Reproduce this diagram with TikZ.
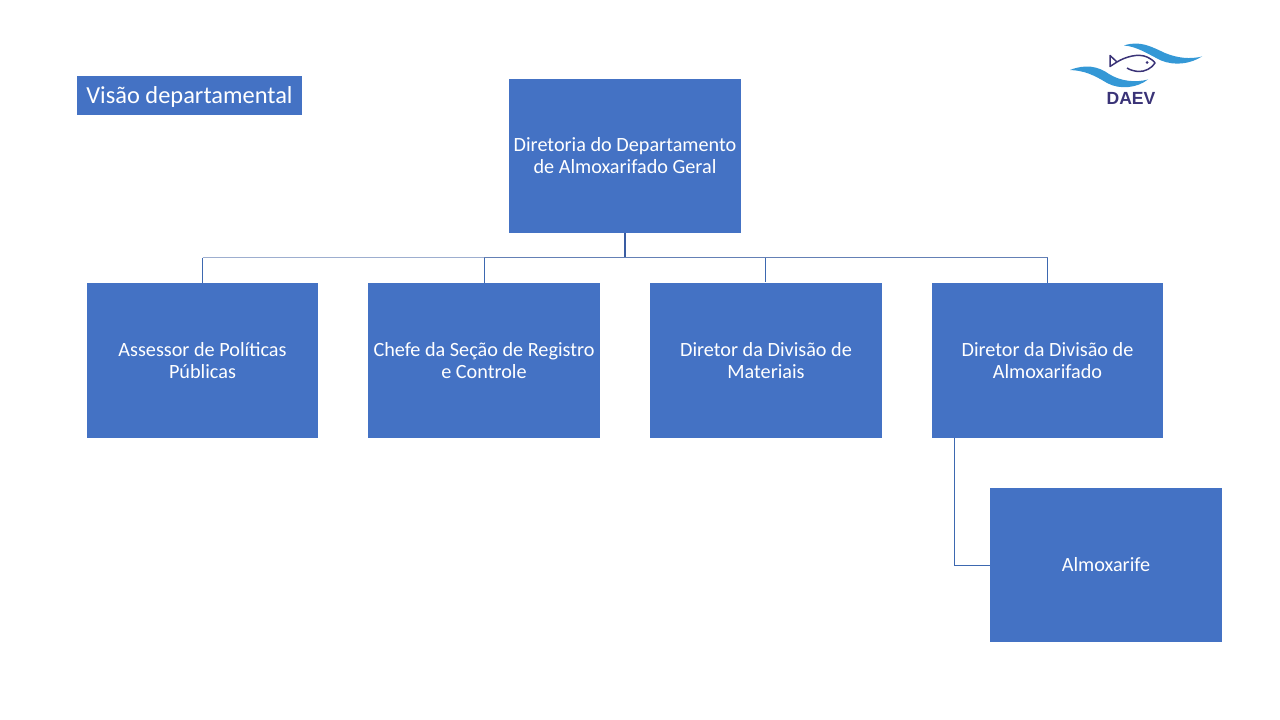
\documentclass[tikz,border=0pt]{standalone}
\usepackage{fontspec}
\setmainfont{Carlito}
\newfontfamily\logofont{Liberation Sans}
\usepackage{xcolor}
\definecolor{boxblue}{HTML}{4472C4}
\definecolor{stemblue}{HTML}{3A5DA3}
\definecolor{busblue}{HTML}{6480B5}
\definecolor{buslight}{HTML}{9DAECF}
\definecolor{dropblue}{HTML}{3D68B0}
\definecolor{wave}{HTML}{3498D6}
\definecolor{navy}{HTML}{3A3377}
\tikzset{
  cargo/.style={fill=boxblue, text=white, minimum width=4.64cm, minimum height=3.08cm,
    inner sep=0pt, text width=4.6cm, align=flush center, font=\fontsize{11.5}{12.5}\selectfont},
  estreito/.style={cargo, minimum width=4.62cm},
  titulo/.style={fill=boxblue, text=white, minimum width=4.5cm, minimum height=0.78cm,
    inner sep=0pt, text height=10pt, text depth=1.2pt, font=\fontsize{13.9}{16}\selectfont},
  liga/.style={line width=0.5pt, draw=dropblue},
}

\begin{document}
\begin{tikzpicture}[x=0.2mm, y=-0.2mm]
  \useasboundingbox (0,0) rectangle (1280,720);

  \node[titulo] (titulo) at (189.5,95.5) {Visão departamental};

  \node[cargo] (diretoria) at (625,156) {Diretoria do Departamento\\de Almoxarifado Geral};
  \node[estreito] (assessor) at (202.5,360.5) {Assessor de Políticas\\Públicas};
  \node[cargo] (chefe) at (484,360.5) {Chefe da Seção de Registro\\e Controle};
  \node[cargo] (materiais) at (766,360.5) {Diretor da Divisão de\\Materiais};
  \node[estreito] (divisao) at (1047.5,360.5) {Diretor da Divisão de\\Almoxarifado};
  \node[cargo] (almoxarife) at (1106,565) {Almoxarife};

  \coordinate (barra) at (625,257.7); % bus line
  \coordinate (pe) at (954,438);      % foot under last director
  \coordinate (queda) at (765.3,282); % drop beside centre of Materiais

  \draw[line width=0.8pt, draw=stemblue] (diretoria.south) -- (barra);
  \draw[liga, draw=buslight] (barra -| assessor.north) -- (barra -| chefe.north);
  \draw[liga, draw=busblue] (barra -| chefe.north) -- (barra -| divisao.north);
  \foreach \alvo in {assessor,chefe,divisao}
    \draw[liga] (barra -| \alvo.north) -- (\alvo.north);
  \draw[liga] (barra -| queda) -- (queda);
  \draw[liga] (pe) |- (almoxarife.west);

  % logo
  \fill[wave] (1124,45.5) .. controls (1140,40) and (1152,47) .. (1165,53)
    .. controls (1177,58) and (1190,59.5) .. (1202,56.5)
    .. controls (1190,64) and (1175,66) .. (1161,60.5)
    .. controls (1148,54) and (1137,46.5) .. (1124,45.5) -- cycle;
  \fill[wave] (1070,70) .. controls (1085,64) and (1098,66) .. (1109,74)
    .. controls (1120,81) and (1135,83) .. (1148,79.5)
    .. controls (1137,88) and (1120,90) .. (1107,83)
    .. controls (1094,75) and (1084,70.5) .. (1070,70) -- cycle;
  \draw[navy, line width=0.85pt, line join=round] (1117,62) -- (1110,55.5) -- (1110,66.5)
    -- (1117,62) .. controls (1125,57) and (1138,53) .. (1147,57)
    .. controls (1151,59) and (1154,61) .. (1155,63)
    .. controls (1152,68) and (1145,72) .. (1138,71.5)
    .. controls (1134,71) and (1130,70) .. (1127,68);
  \fill[navy] (1147,62.5) circle (1.5);
  \node[text=navy, font=\logofont\bfseries\fontsize{10}{12}\selectfont, inner sep=0pt] (daev) at (1131,98.5) {DAEV};
\end{tikzpicture}
\end{document}
